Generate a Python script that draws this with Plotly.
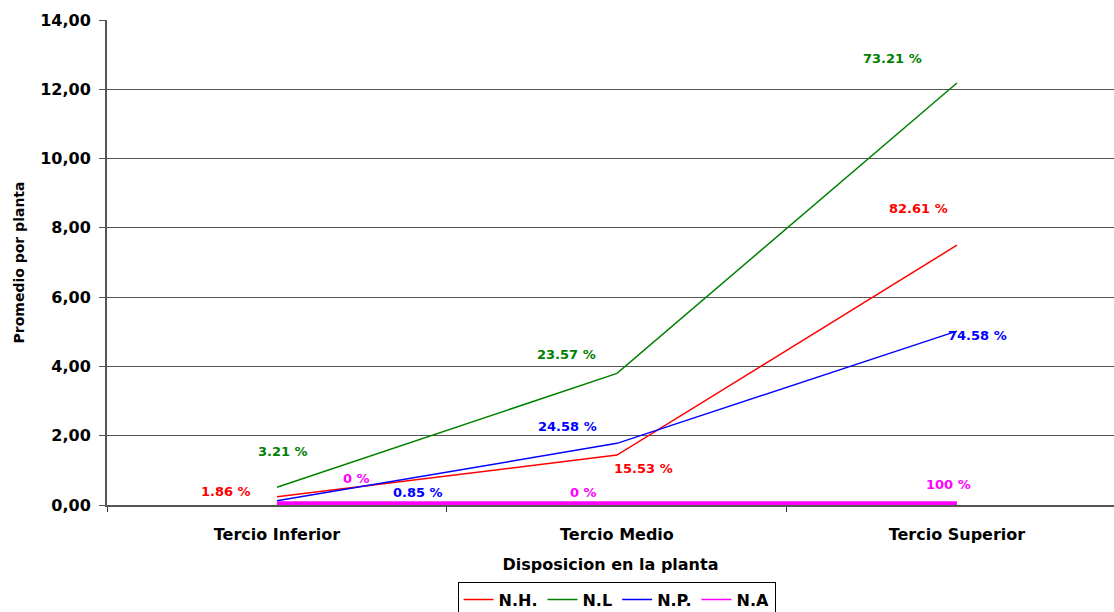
import plotly.graph_objs as go

# datos
categorias = ["Tercio Inferior", "Tercio Medio", "Tercio Superior"]

nh = [0.24, 1.44, 7.50]
nl = [0.51, 3.80, 12.18]
np_ = [0.12, 1.78, 5.02]
na = [0.05, 0.05, 0.05]

pct_nh = ["1.86 %", "15.53 %", "82.61 %"]
pct_nl = ["3.21 %", "23.57 %", "73.21 %"]
pct_np = ["0.85 %", "24.58 %", "74.58 %"]
pct_na = ["0 %", "0 %", "100 %"]

FUENTE = "DejaVu Sans"

series = [
    ("N.H.", nh, "#FF0000", 1.5),
    ("N.L", nl, "#008000", 1.5),
    ("N.P.", np_, "#0000FF", 1.5),
    ("N.A", na, "#FF00FF", 4),
]

data = []
for n, v, c, w in series:
    data.append(go.Scatter(x=categorias, y=v, name=n, mode="lines",
                           line=dict(color=c, width=w), showlegend=False))
# leyenda con lineas finas
for n, v, c, w in series:
    data.append(go.Scatter(x=[None], y=[None], name=n, mode="lines",
                           line=dict(color=c, width=1.5)))

# desplazamientos (px) de cada etiqueta respecto a su punto
desp = {
    "N.H.": [(-51, 5), (27, -13), (-38, 37)],
    "N.L": [(6, 36), (-50, 19), (-64, 25)],
    "N.P.": [(141, 8), (-49, 17), (21, -4)],
    "N.A": [(80, 25), (-33, 11), (-8, 19)],
}
textos = {"N.H.": pct_nh, "N.L": pct_nl, "N.P.": pct_np, "N.A": pct_na}

anotaciones = []
for n, v, c, w in series:
    for i, cat in enumerate(categorias):
        dx, dy = desp[n][i]
        anotaciones.append(dict(x=cat, y=v[i], text=textos[n][i], showarrow=False,
                                xshift=dx, yshift=dy,
                                font=dict(family=FUENTE, size=13, color=c, weight="bold")))

layout = go.Layout(
    width=1114, height=612,
    margin=dict(l=107, r=0, t=20, b=107, autoexpand=False),
    paper_bgcolor="white", plot_bgcolor="white",
    separators=",.",
    font=dict(family=FUENTE, size=16, color="black", weight="bold"),
    showlegend=True,
    legend=dict(orientation="h", x=0.506, xanchor="center", y=-0.158, yanchor="top",
                bordercolor="black", borderwidth=1, tracegroupgap=0,
                font=dict(family=FUENTE, size=16, color="black", weight="bold")),
    xaxis=dict(type="category", range=[-0.5, 2.462], tickson="boundaries",
               ticks="outside", ticklen=5, tickcolor="#333",
               showgrid=False, showline=True, linecolor="#555", linewidth=2,
               ticklabelstandoff=14,
               tickfont=dict(size=16),
               title=dict(text="Disposicion en la planta", font=dict(size=16), standoff=16)),
    yaxis=dict(range=[0, 14], dtick=2, tickformat=".2f",
               ticks="outside", ticklen=6, tickcolor="#555",
               showgrid=True, gridcolor="#555", gridwidth=1,
               showline=True, linecolor="#555", linewidth=2,
               zeroline=False, ticklabelstandoff=5,
               tickfont=dict(size=16),
               title=dict(text="Promedio por planta", font=dict(size=14), standoff=12)),
    annotations=anotaciones,
)

fig = go.Figure(data=data, layout=layout)
# sin margen ni barras de desplazamiento en la pagina
fig.write_html("out.html", config={"displayModeBar": False},
               post_script="document.body.style.margin='0';document.body.style.overflow='hidden';")
